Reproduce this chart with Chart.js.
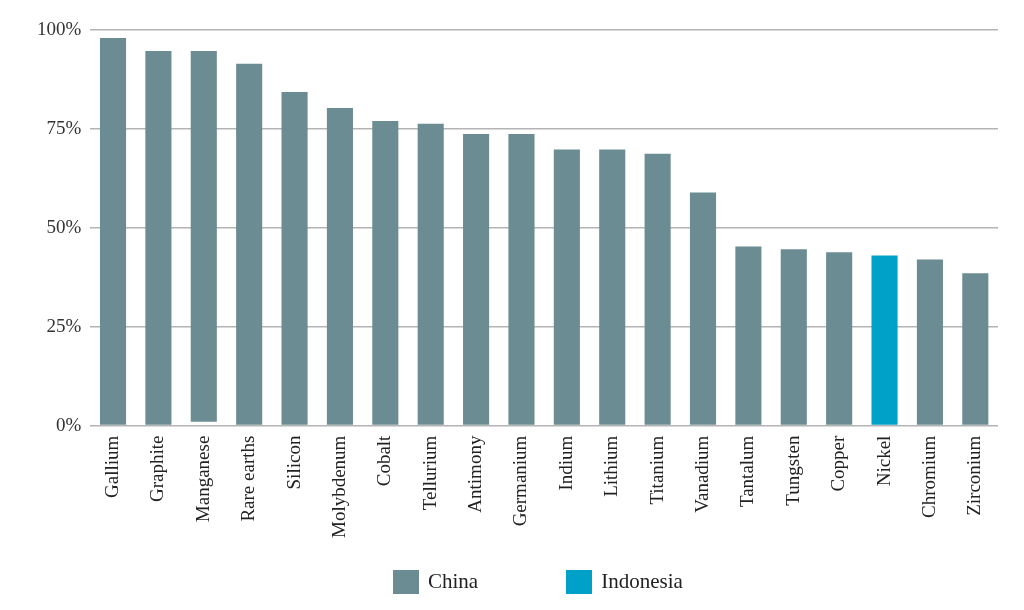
<!DOCTYPE html>
<html>
<head>
<meta charset="utf-8">
<script src="https://cdn.jsdelivr.net/npm/chart.js@4.4.1/dist/chart.umd.min.js"></script>
<style>
  html, body { margin: 0; padding: 0; background: #fff; }
  #caja { position: relative; width: 1024px; height: 610px; }
  #leyenda {
    position: absolute; left: 393px; top: 569px;
    display: flex; align-items: center;
    font-family: "Liberation Serif", serif; font-size: 21px; color: #222;
  }
  #leyenda .item { display: flex; align-items: center; }
  #leyenda .cuadro { width: 26px; height: 24px; margin-right: 9px; }
</style>
</head>
<body>
<div id="caja">
  <canvas id="barras"></canvas>
  <div id="leyenda"></div>
</div>
<script>
// datos del gráfico

var minerales = ["Gallium", "Graphite", "Manganese", "Rare earths", "Silicon", "Molybdenum",
  "Cobalt", "Tellurium", "Antimony", "Germanium", "Indium", "Lithium", "Titanium",
  "Vanadium", "Tantalum", "Tungsten", "Copper", "Nickel", "Chromium", "Zirconium"];

// cuota de China (null donde el país principal es otro)
var china = [98, 94.7, 94.7, 91.5, 84.3, 80.3, 77, 76.3, 73.7, 73.7, 69.8, 69.8, 68.7,
  58.9, 45.3, 44.6, 43.8, null, 42, 38.5];

// base de cada barra (Manganese empieza un poco por encima de cero)
var baseChina = [0, 0, 1, 0, 0, 0, 0, 0, 0, 0, 0, 0, 0, 0, 0, 0, 0, 0, 0, 0];

var indonesia = [null, null, null, null, null, null, null, null, null, null, null, null, null,
  null, null, null, null, 43, null, null];

var ticksY = [0, 25, 50, 75, 100];

// leyenda en HTML (el hueco entre elementos es más ancho que el de Chart.js)

function pintaLeyenda(chart) {
  var caja = document.getElementById("leyenda");
  var huecos = [0, 88];
  chart.data.datasets.forEach(function (ds, i) {
    var item = document.createElement("div");
    item.className = "item";
    item.style.marginLeft = huecos[i] + "px";
    var cuadro = document.createElement("span");
    cuadro.className = "cuadro";
    cuadro.style.background = ds.backgroundColor;
    var texto = document.createElement("span");
    texto.textContent = ds.label;
    item.appendChild(cuadro);
    item.appendChild(texto);
    caja.appendChild(item);
  });
}

// gráfico de barras

function cargaGraficoBarras() {
  var datosChina = china.map(function (v, i) {
    return v === null ? null : [baseChina[i], v];
  });

  var datos = {
    labels: minerales,
    datasets: [{
      label: "China",
      backgroundColor: "#6a8c92",
      data: datosChina
    }, {
      label: "Indonesia",
      backgroundColor: "#00a1c8",
      data: indonesia
    }]
  };

  var config = {
    type: "bar",
    data: datos,
    options: {
      responsive: true,
      maintainAspectRatio: false,
      animation: false,
      layout: {
        padding: { top: 30, right: 26, left: 28, bottom: 70 }
      },
      datasets: {
        bar: {
          categoryPercentage: 1,
          barPercentage: 0.575
        }
      },
      plugins: {
        tooltip: { enabled: false },
        legend: { display: false }
      },
      scales: {
        x: {
          stacked: true,
          grid: { display: false },
          border: { display: false },
          ticks: {
            minRotation: 90,
            maxRotation: 90,
            autoSkip: false,
            padding: 2,
            color: "#222",
            font: { family: "Liberation Serif", size: 19 }
          }
        },
        y: {
          min: 0,
          max: 100,
          afterBuildTicks: function (eje) {
            eje.ticks = ticksY.map(function (v) { return { value: v }; });
          },
          grid: {
            color: "#b4b4b4",
            lineWidth: 1.5,
            drawTicks: false
          },
          border: { display: false },
          ticks: {
            padding: 9,
            color: "#333",
            font: { family: "Liberation Serif", size: 19 },
            callback: function (v) { return v + "%"; }
          }
        }
      }
    }
  };

  var grafico = document.getElementById("barras").getContext("2d");
  var chart = new Chart(grafico, config);
  pintaLeyenda(chart);
}

cargaGraficoBarras();
</script>
</body>
</html>
